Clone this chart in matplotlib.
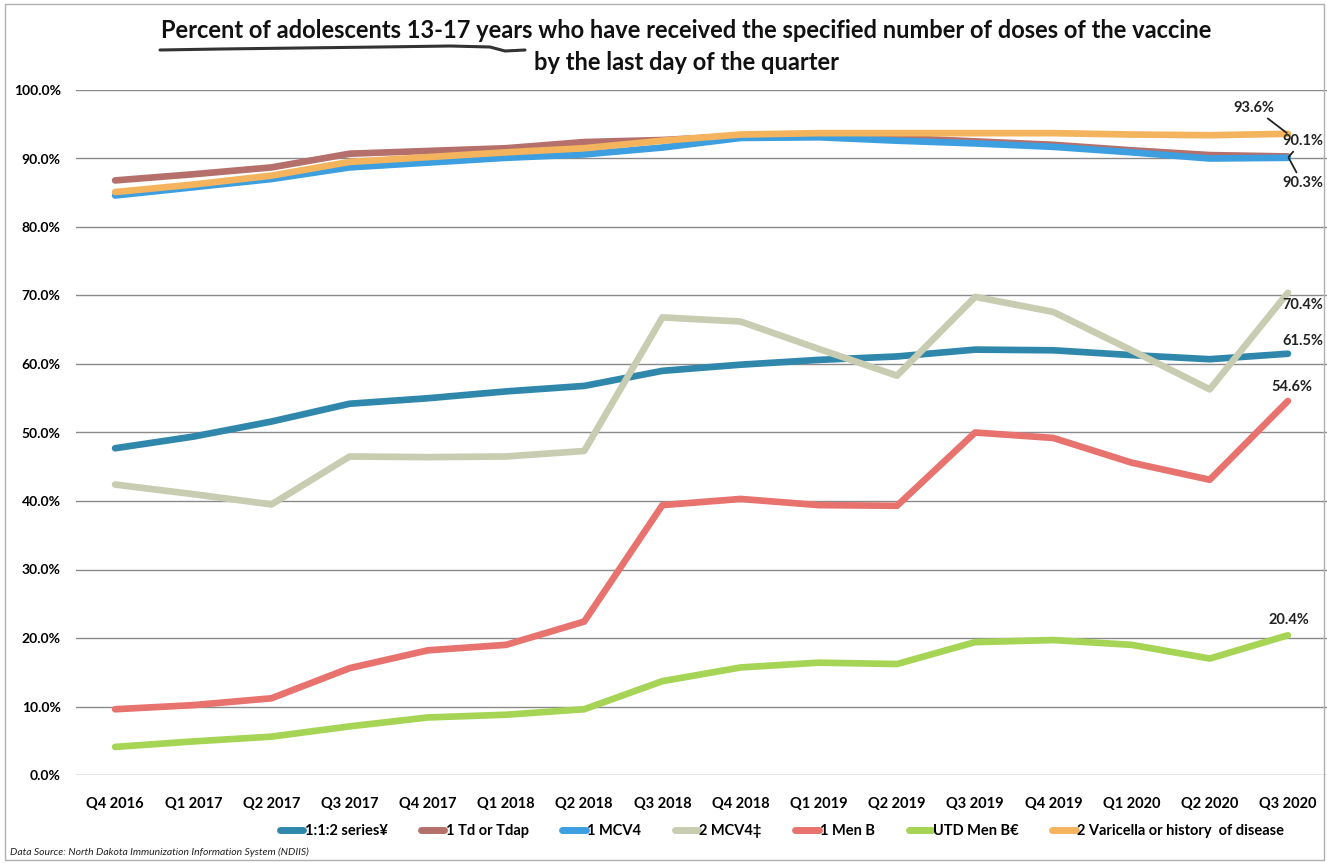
import matplotlib
matplotlib.use("Agg")
import matplotlib.pyplot as plt
from matplotlib.lines import Line2D
from matplotlib.patches import Rectangle

quarters = ["Q4 2016", "Q1 2017", "Q2 2017", "Q3 2017", "Q4 2017", "Q1 2018",
            "Q2 2018", "Q3 2018", "Q4 2018", "Q1 2019", "Q2 2019", "Q3 2019",
            "Q4 2019", "Q1 2020", "Q2 2020", "Q3 2020"]

series_112 = [47.7, 49.4, 51.6, 54.2, 55.0, 56.0, 56.8, 59.0, 59.9, 60.6, 61.1, 62.1, 62.0, 61.3, 60.7, 61.5]
td_tdap = [86.8, 87.7, 88.7, 90.7, 91.1, 91.5, 92.4, 92.7, 93.3, 93.3, 93.0, 92.5, 92.0, 91.2, 90.5, 90.3]
mcv4_1 = [84.6, 85.8, 87.0, 88.7, 89.4, 90.1, 90.6, 91.6, 93.0, 93.1, 92.6, 92.2, 91.7, 90.9, 90.0, 90.1]
mcv4_2 = [42.4, 41.0, 39.5, 46.5, 46.4, 46.5, 47.3, 66.8, 66.2, 62.2, 58.3, 69.8, 67.6, 62.0, 56.3, 70.4]
menb_1 = [9.6, 10.2, 11.2, 15.6, 18.2, 19.0, 22.4, 39.4, 40.3, 39.4, 39.3, 50.0, 49.2, 45.6, 43.1, 54.6]
utd_menb = [4.1, 4.9, 5.6, 7.1, 8.4, 8.8, 9.6, 13.7, 15.7, 16.4, 16.2, 19.4, 19.7, 19.0, 17.0, 20.4]
varicella = [85.1, 86.2, 87.5, 89.5, 90.2, 90.9, 91.5, 92.6, 93.5, 93.7, 93.7, 93.7, 93.7, 93.5, 93.4, 93.6]

series_names = ["1:1:2 series\u00a5", "1 Td or Tdap", "1 MCV4", "2 MCV4\u2021",
                "1 Men B", "UTD Men B\u20ac", "2 Varicella or history  of disease"]
series_values = [series_112, td_tdap, mcv4_1, mcv4_2, menb_1, utd_menb, varicella]
colors = ["#2f87ab", "#b5706b", "#3d9fdf", "#c8ccb0", "#e8726d", "#a6d455", "#f4b45e"]

y_ticks = [0, 10, 20, 30, 40, 50, 60, 70, 80, 90, 100]

FONT = ["Lato", "DejaVu Sans"]

W, H = 1327, 863
fig = plt.figure(figsize=(W / 100, H / 100), dpi=100)
fig.patch.set_facecolor("white")

ax = fig.add_axes([76 / W, 88 / H, (W - 76) / W, (775 - 90) / H])
x = list(range(len(quarters)))

for vals, c in zip(series_values, colors):
    ax.plot(x, vals, color=c, lw=4.8, solid_capstyle="round", solid_joinstyle="round")

ax.set_xlim(-0.5, 15.5)
ax.set_ylim(0, 100)
ax.set_yticks(y_ticks)
ax.set_yticklabels([f"{v:.1f}%" for v in y_ticks], fontfamily=FONT,
                   fontweight="bold", fontsize=10)
ax.set_xticks(x)
ax.set_xticklabels(quarters, fontfamily=FONT, fontweight="bold", fontsize=10.5)
ax.tick_params(axis="both", length=0)
ax.tick_params(axis="y", pad=11)
ax.tick_params(axis="x", pad=16)
for s in ax.spines.values():
    s.set_visible(False)
ax.grid(axis="y", color="#8a8a8a", lw=1.0)
ax.set_axisbelow(True)

# end-of-line value labels
def end_label(vals, text, dx, dy, ha="left", leader=False):
    kw = {}
    if leader:
        kw["arrowprops"] = dict(arrowstyle="-", color="#222222", lw=1.3,
                                shrinkA=1, shrinkB=1, zorder=5)
    ax.annotate(text, xy=(x[-1], vals[-1]), xytext=(dx, dy),
                textcoords="offset pixels", ha=ha, va="center",
                fontsize=10.5, fontweight="bold", fontfamily=FONT, color="#222222",
                annotation_clip=False, zorder=5, **kw)

end_label(varicella, f"{varicella[-1]:.1f}%", -34, 26, ha="center", leader=True)
end_label(mcv4_1, f"{mcv4_1[-1]:.1f}%", 35, 17, ha="right", leader=True)
end_label(td_tdap, f"{td_tdap[-1]:.1f}%", 35, -27, ha="right", leader=True)
end_label(mcv4_2, f"{mcv4_2[-1]:.1f}%", 35, -12, ha="right")
end_label(series_112, f"{series_112[-1]:.1f}%", -6, 13)
end_label(menb_1, f"{menb_1[-1]:.1f}%", -17, 14)
end_label(utd_menb, f"{utd_menb[-1]:.1f}%", -19, 15)

# title
fig.text(686 / W, 1 - 31 / H,
         "Percent of adolescents 13-17 years who have received the specified number of doses of the vaccine",
         ha="center", va="center", fontsize=17, fontweight="bold", fontfamily=FONT, color="#111111")
fig.text(686 / W, 1 - 62 / H, "by the last day of the quarter",
         ha="center", va="center", fontsize=17, fontweight="bold", fontfamily=FONT, color="#111111")

# pen underline beneath the first part of the title
ux = [160, 220, 300, 380, 450, 490, 505, 525]
uy = [50, 49, 48, 47, 46, 47, 51, 50]
fig.add_artist(Line2D([v / W for v in ux], [1 - v / H for v in uy],
                      color="#333333", lw=2.2, solid_capstyle="round"))

# legend
handles = [Line2D([0], [0], color=c, lw=5, solid_capstyle="round") for c in colors]
fig.legend(handles, series_names, loc="center", bbox_to_anchor=(782 / W, 1 - 831 / H),
           ncol=7, frameon=False, handlelength=1.6, handletextpad=0.1, columnspacing=2.3,
           prop=dict(family=FONT, weight="bold", size=10.5))

fig.text(10 / W, 1 - 852 / H, "Data Source: North Dakota Immunization Information System (NDIIS)",
         ha="left", va="center", fontsize=7.5, fontstyle="italic", fontfamily=FONT, color="#222222")

# outer chart frame
fig.add_artist(Rectangle((5 / W, 3 / H), 1 - 8 / W, 1 - 7 / H, transform=fig.transFigure,
                         fill=False, edgecolor="#b0b0b0", lw=1.0))

fig.savefig("out.png", dpi=100)
